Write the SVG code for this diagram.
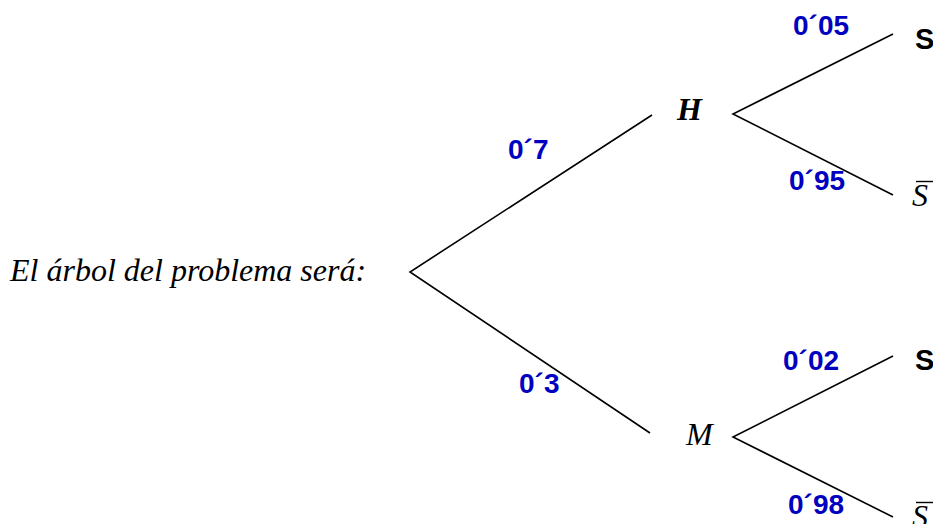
<svg xmlns="http://www.w3.org/2000/svg" width="933" height="524" viewBox="0 0 933 524">
<style>
.ln{stroke:#000;stroke-width:1.6;fill:none}
.p{font-family:"Liberation Sans",Arial,sans-serif;font-weight:bold;font-size:28px;fill:#0000c0}
.it{font-family:"Liberation Serif","Times New Roman",serif;font-style:italic;font-size:32px;fill:#000}
.s{font-family:"Liberation Sans",Arial,sans-serif;font-weight:bold;font-size:29px;fill:#000}
</style>
<rect width="933" height="524" fill="#fff"/>
<text class="it" x="10" y="281">El árbol del problema será:</text>
<g id="connectors">
<path class="ln" d="M652,115 L410,272 L650,433"/>
<path class="ln" d="M893,34 L733,114 L893,195"/>
<path class="ln" d="M893,356 L733,437 L893,517"/>
</g>
<g id="H"><text class="it" x="677" y="120" font-weight="bold" font-size="33">H</text></g>
<g id="M"><text class="it" x="686" y="445" font-size="33">M</text></g>
<g id="S1"><text class="s" x="915" y="49">S</text></g>
<g id="Sbar1"><line x1="916" y1="181.5" x2="933" y2="181.5" stroke="#000" stroke-width="1.4"/><text class="it" x="912" y="206">S</text></g>
<g id="S2"><text class="s" x="915" y="370">S</text></g>
<g id="Sbar2"><line x1="916" y1="502.5" x2="933" y2="502.5" stroke="#000" stroke-width="1.4"/><text class="it" x="912" y="527">S</text></g>
<g id="labels">
<text class="p" x="793" y="35">0´05</text>
<text class="p" x="789" y="190">0´95</text>
<text class="p" x="508" y="159">0´7</text>
<text class="p" x="519" y="393">0´3</text>
<text class="p" x="783" y="370">0´02</text>
<text class="p" x="788" y="514">0´98</text>
</g>
</svg>
